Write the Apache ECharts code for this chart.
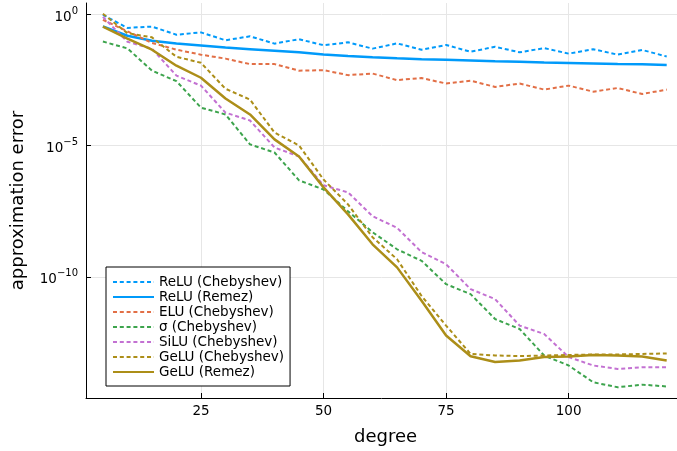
<!DOCTYPE html>
<html>
<head>
<meta charset="utf-8">
<script src="https://cdn.jsdelivr.net/npm/echarts@6/dist/echarts.min.js"></script>
<style>html,body{margin:0;padding:0;background:#fff}#c{width:677px;height:451px}</style>
</head>
<body>
<div id="c"></div>
<script>
// degrees
var degrees = [5,10,15,20,25,30,35,40,45,50,55,60,65,70,75,80,85,90,95,100,105,110,115,120];
// log10 of approximation error
var reluChebLog = [-0.01,-0.51,-0.46,-0.77,-0.68,-0.98,-0.83,-1.11,-0.94,-1.17,-1.06,-1.30,-1.10,-1.34,-1.16,-1.42,-1.23,-1.44,-1.28,-1.49,-1.32,-1.53,-1.35,-1.60];
var reluRemezLog = [-0.45,-0.81,-1.00,-1.10,-1.18,-1.26,-1.32,-1.38,-1.44,-1.52,-1.58,-1.63,-1.67,-1.70,-1.72,-1.75,-1.78,-1.80,-1.83,-1.85,-1.87,-1.89,-1.90,-1.92];
var eluChebLog = [-0.20,-0.64,-1.08,-1.34,-1.53,-1.68,-1.89,-1.89,-2.14,-2.12,-2.31,-2.25,-2.50,-2.42,-2.63,-2.52,-2.76,-2.63,-2.86,-2.71,-2.94,-2.80,-3.03,-2.86];
var sigmaChebLog = [-1.03,-1.29,-2.14,-2.54,-3.55,-3.81,-4.95,-5.26,-6.32,-6.67,-7.50,-8.30,-8.95,-9.39,-10.28,-10.66,-11.61,-11.99,-13.00,-13.38,-14.02,-14.21,-14.11,-14.18];
var siluChebLog = [-0.09,-1.04,-1.30,-2.33,-2.71,-3.74,-4.04,-5.07,-5.41,-6.51,-6.78,-7.69,-8.13,-9.06,-9.52,-10.47,-10.85,-11.86,-12.18,-13.06,-13.38,-13.51,-13.45,-13.45];
var geluChebLog = [0.03,-0.71,-0.87,-1.61,-1.84,-2.83,-3.24,-4.50,-4.99,-6.29,-7.24,-8.49,-9.33,-10.73,-11.86,-12.94,-13.00,-13.02,-13.00,-12.98,-12.96,-12.96,-12.94,-12.92];
var geluRemezLog = [-0.46,-0.92,-1.34,-1.95,-2.41,-3.20,-3.81,-4.76,-5.41,-6.59,-7.62,-8.76,-9.64,-10.91,-12.24,-13.03,-13.25,-13.19,-13.06,-13.04,-12.98,-13.00,-13.04,-13.19];
var xTicks = [25,50,75,100];
var yTicks = [1, 1e-5, 1e-10];

var FONT = 'DejaVu Sans';
function pairs(logs){ return degrees.map(function(d,i){ return [d, Math.pow(10, logs[i])]; }); }
var dot = [4, 2.8];
function mk(name, logs, color, dotted){
  return {
    name: name, type: 'line', data: pairs(logs), symbol: 'none', smooth: false,
    lineStyle: { color: color, width: dotted ? 2 : 2.5, type: dotted ? dot : 'solid', cap: 'butt' },
    itemStyle: { color: color }, emphasis: { disabled: true }, animation: false
  };
}
var chart = echarts.init(document.getElementById('c'), null, { renderer: 'canvas' });
chart.setOption({
  animation: false,
  backgroundColor: '#fff',
  grid: { left: 86, top: 3, bottom: 52, right: 0, containLabel: false },
  xAxis: {
    type: 'value', min: 1.55, max: 122.1,
    name: 'degree', nameLocation: 'middle', nameGap: 30,
    nameTextStyle: { fontFamily: FONT, fontSize: 18, color: '#000', padding: [0, 0, 0, 8] },
    axisLine: { show: true, onZero: false, lineStyle: { color: '#000', width: 1 } },
    axisTick: { show: true, inside: true, length: 5, customValues: xTicks, lineStyle: { color: '#000' } },
    axisLabel: { customValues: xTicks, fontFamily: FONT, fontSize: 13.5, color: '#000', margin: 6 },
    splitLine: { show: true, lineStyle: { color: '#e6e6e6', width: 1 } }
  },
  yAxis: {
    type: 'log', logBase: 10, min: Math.pow(10, -14.62), max: Math.pow(10, 0.44),
    name: 'approximation error', nameLocation: 'middle', nameGap: 59, nameRotate: 90,
    nameTextStyle: { fontFamily: FONT, fontSize: 18, color: '#000' },
    axisLine: { show: true, onZero: false, lineStyle: { color: '#000', width: 1 } },
    axisTick: { show: true, inside: true, length: 5, customValues: yTicks, lineStyle: { color: '#000' } },
    axisLabel: {
      customValues: yTicks, margin: 8,
      formatter: function(v){
        var e = Math.round(Math.log10(v));
        var s = e < 0 ? '\u2212' + (-e) : '' + e;
        return '{b|10}{s|' + s + '}';
      },
      rich: {
        b: { fontFamily: FONT, fontSize: 13.5, color: '#000', padding: [6,0,0,0] },
        s: { fontFamily: FONT, fontSize: 10, color: '#000', padding: [0,0,6,0] }
      }
    },
    splitLine: { show: true, lineStyle: { color: '#e6e6e6', width: 1 } }
  },
  legend: {
    orient: 'vertical', left: 106, top: 267,
    padding: [8, 6, 7, 6], itemWidth: 41, itemHeight: 12, itemGap: 1,
    itemStyle: { opacity: 0 },
    backgroundColor: '#fff', borderColor: '#000', borderWidth: 1, borderRadius: 0,
    textStyle: { fontFamily: FONT, fontSize: 13.5, lineHeight: 12, color: '#000' },
    data: ['ReLU (Chebyshev)','ReLU (Remez)','ELU (Chebyshev)','\u03c3 (Chebyshev)','SiLU (Chebyshev)','GeLU (Chebyshev)','GeLU (Remez)']
  },
  series: [
    mk('ReLU (Chebyshev)', reluChebLog, '#009afa', true),
    mk('ReLU (Remez)', reluRemezLog, '#009afa', false),
    mk('ELU (Chebyshev)', eluChebLog, '#e26f46', true),
    mk('\u03c3 (Chebyshev)', sigmaChebLog, '#3da44d', true),
    mk('SiLU (Chebyshev)', siluChebLog, '#c371d2', true),
    mk('GeLU (Chebyshev)', geluChebLog, '#ac8e18', true),
    mk('GeLU (Remez)', geluRemezLog, '#ac8e18', false)
  ]
});
</script>
</body>
</html>
